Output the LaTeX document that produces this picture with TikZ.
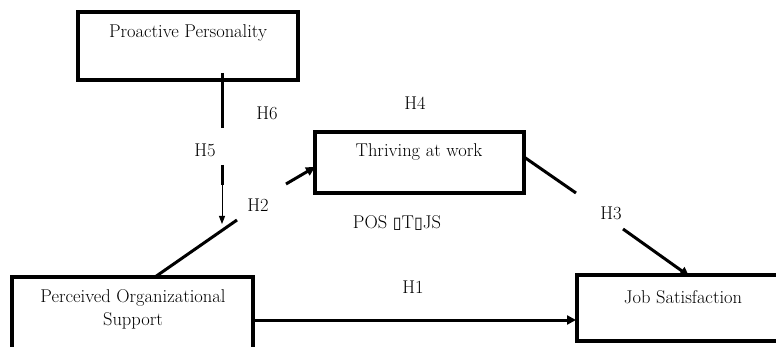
\documentclass[tikz,border=0pt]{standalone}
\usepackage{fontspec}
\newfontfamily\symfont{DejaVu Sans}
\usetikzlibrary{arrows.meta}
\begin{document}
\begin{tikzpicture}[x=1pt,y=-1pt,
  box/.style={draw=black,line width=4pt,rectangle,inner sep=0pt},
  lbl/.style={font=\fontsize{18.5}{23}\selectfont,inner sep=0pt,align=center},
  conn/.style={line width=3pt,black},
  thin/.style={line width=1pt,black},
  tip/.style={-{Triangle[length=9pt,width=9pt]}}
]
\clip (0,0) rectangle (776,347);
\fill[white] (0,0) rectangle (776,347);
% boxes
\node[box,minimum width=220pt,minimum height=68pt] (pp) at (188,46) {};
\node[lbl] (pptext) at (188,33) {Proactive Personality};
\node[box,minimum width=209pt,minimum height=61pt] (tw) at (419.5,162.5) {};
\node[lbl] (twtext) at (419,152) {Thriving at work};
\node[box,minimum width=241pt,minimum height=100pt] (pos) at (132.5,327) {};
\node[lbl] (postext) at (133,309) {Perceived Organizational\\Support};
\node[box,minimum width=230pt,minimum height=66pt] (js) at (692,308) {};
\node[lbl] (jstext) at (683,297) {Job Satisfaction};
% labels
\node[lbl] (h6) at (267,113) {H6};
\node[lbl] (h4) at (415,103) {H4};
\node[lbl] (h5) at (205,150) {H5};
\node[lbl] (h2) at (258,205) {H2};
\node[lbl] (h3) at (611,213) {H3};
\node[lbl] (h1) at (413,287) {H1};
\node[lbl] (posjs) at (397,223) {POS {\symfont\fontsize{16}{18}\selectfont ▯}T{\symfont\fontsize{16}{18}\selectfont ▯}JS};
% coordinates of connector pieces
\coordinate (a1) at (222,73);
\coordinate (a2) at (222,128);
\coordinate (a3) at (222,165);
\coordinate (a4) at (222,185);
\coordinate (a5) at (222,224);
\coordinate (b1) at (155,277);
\coordinate (b2) at (237,220);
\coordinate (b3) at (286,184);
\coordinate (b4) at (315,167);
\coordinate (c1) at (524,157);
\coordinate (c2) at (576,193);
\coordinate (c3) at (623,229);
\coordinate (c4) at (689,276);
\coordinate (d1) at (253,320);
\coordinate (d2) at (576,320);
% connectors
\draw[conn] (a1) -- (a2);
\draw[conn] (a3) -- (a4);
\draw[thin,-{Triangle[length=8pt,width=6pt]}] (a4) -- (a5);
\draw[conn] (b1) -- (b2);
\draw[conn,tip] (b3) -- (b4);
\draw[conn] (c1) -- (c2);
\draw[conn,tip] (c3) -- (c4);
\draw[conn,tip] (d1) -- (d2);
\end{tikzpicture}
\end{document}
